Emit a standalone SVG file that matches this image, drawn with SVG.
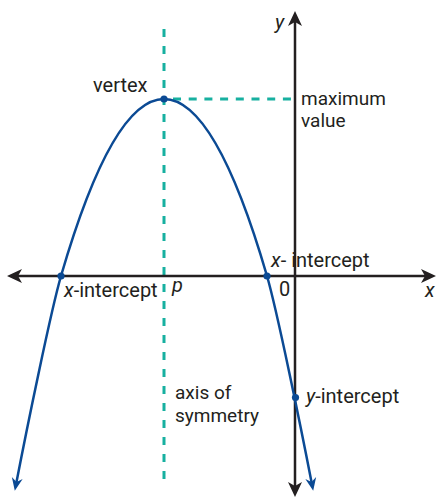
<svg xmlns="http://www.w3.org/2000/svg" width="437" height="498" viewBox="0 0 437 498">
<style>
.axis{stroke:#231f20;stroke-width:2.5;fill:none}
.dash{stroke:#17b0a0;stroke-width:3;fill:none}
.curve{stroke:#0b4a94;stroke-width:2.5;fill:none}
.dot{fill:#0b4a94}
text{font-family:Roboto,"Liberation Sans",sans-serif;font-size:20px;fill:#231f20}
.it{font-style:italic}
.two{font-size:19px}
</style>
<defs>
<marker id="ah" markerUnits="userSpaceOnUse" viewBox="-5 -8 17 16" markerWidth="17" markerHeight="16" refX="0" refY="0" orient="auto-start-reverse">
<path d="M11,0 L-4,-7 L0,0 L-4,7 Z" fill="#231f20"/>
</marker>
<marker id="bh" markerUnits="userSpaceOnUse" viewBox="-5 -6 14 12" markerWidth="14" markerHeight="12" refX="0" refY="0" orient="auto-start-reverse">
<path d="M9,0 L-4,-5.5 L0,0 L-4,5.5 Z" fill="#0b4a94"/>
</marker>
</defs>
<g id="guides">
<path class="dash" d="M164 479 V20" stroke-dasharray="8 9"/>
<path class="dash" d="M164 99 H294" stroke-dasharray="8 7.7" stroke-dashoffset="-9"/>
</g>
<g id="axes">
<path id="x-axis" class="axis" d="M18 276 H425" marker-start="url(#ah)" marker-end="url(#ah)"/>
<path id="y-axis" class="axis" d="M295 22 V486" marker-start="url(#ah)" marker-end="url(#ah)"/>
</g>
<g id="parabola">
<path class="curve" d="M16.5 482 C26.5 430,51 310.4,61 276 Q112.5 99,164 99 Q215.5 99,267 276 C277 310.4,301.5 430,311.5 482" marker-start="url(#bh)" marker-end="url(#bh)"/>
<circle class="dot" cx="61" cy="276" r="3.6"/>
<circle class="dot" cx="164" cy="99" r="3.6"/>
<circle class="dot" cx="267" cy="276" r="3.6"/>
<circle class="dot" cx="295.5" cy="397.5" r="3.6"/>
</g>
<g id="labels">
<text x="275" y="29" class="it">y</text>
<text x="425" y="297" class="it">x</text>
<text x="279" y="296">0</text>
<text x="93" y="92">vertex</text>
<text x="301" y="104.5" class="two">maximum<tspan x="301" dy="22.5">value</tspan></text>
<text x="271" y="267"><tspan class="it">x</tspan>- intercept</text>
<text x="64" y="297"><tspan class="it">x</tspan>-intercept</text>
<text x="172" y="292" class="it">p</text>
<text x="175" y="399" class="two">axis of<tspan x="175" dy="22.5">symmetry</tspan></text>
<text x="306" y="403"><tspan class="it">y</tspan>-intercept</text>
</g>
</svg>
